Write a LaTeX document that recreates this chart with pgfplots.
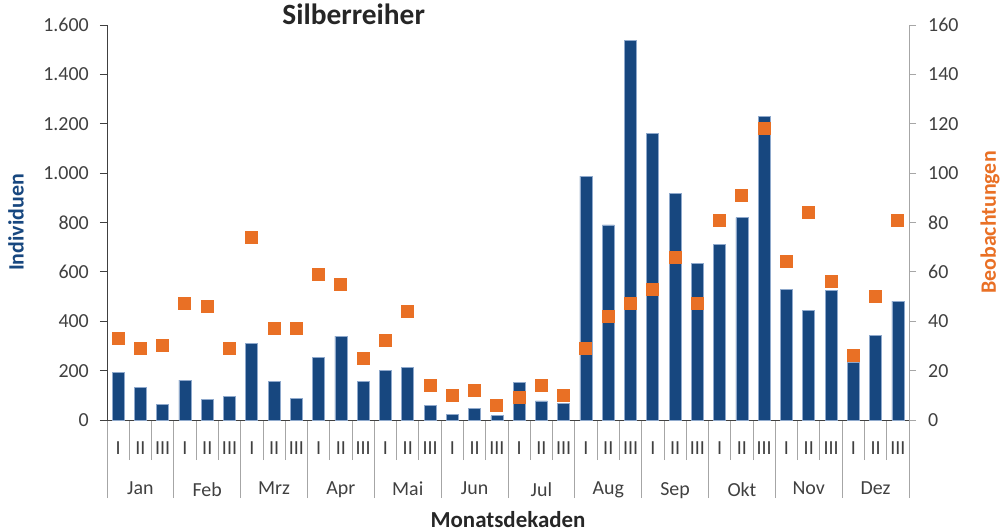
\documentclass[border=0pt]{standalone}
\usepackage{fontspec}
\setmainfont{Carlito}
\usepackage{pgfplots}
\usepackage{pgfplotstable}
\pgfplotsset{compat=1.18}
\definecolor{barblue}{HTML}{17477F}
\definecolor{baredge}{HTML}{8FA9CC}
\definecolor{obsorange}{HTML}{E97025}
\definecolor{ticktext}{HTML}{404040}
\definecolor{sepgray}{HTML}{A6A6A6}
\definecolor{axisdark}{HTML}{404040}
\definecolor{titletext}{HTML}{262626}

\pgfplotstableread{
x ind obs
0.5 192 33
1.5 132 29
2.5 63 30
3.5 162 47
4.5 83 46
5.5 95 29
6.5 309 74
7.5 155 37
8.5 88 37
9.5 253 59
10.5 340 55
11.5 155 25
12.5 200 32
13.5 214 44
14.5 60 14
15.5 24 10
16.5 46 12
17.5 17 6
18.5 152 9
19.5 77 14
20.5 66 10
21.5 988 29
22.5 790 42
23.5 1537 47
24.5 1160 53
25.5 918 66
26.5 635 47
27.5 710 81
28.5 820 91
29.5 1228 118
30.5 530 64
31.5 443 84
32.5 525 56
33.5 235 26
34.5 342 50
35.5 482 81
}\datatable

\pgfplotsset{
  base/.style={scale only axis, width=802bp, height=395bp, xmin=0, xmax=36,
    at={(0,0)}, anchor=south west, axis line style={-},
    tick label style={font=\fontsize{20}{24}\selectfont, text=ticktext},
    /pgf/number format/assume math mode=true},
}

\begin{document}
\begin{tikzpicture}
\path[use as bounding box] (-107bp,-112bp) rectangle (900bp,420bp);

% decade separators and labels
\begin{axis}[base, ymin=0, ymax=1, axis y line=none, axis x line*=bottom,
  x axis line style={axisdark, line width=0.8bp},
  xtick={0,1,...,36}, x tick label as interval,
  xticklabels={I,II,III,I,II,III,I,II,III,I,II,III,I,II,III,I,II,III,I,II,III,I,II,III,I,II,III,I,II,III,I,II,III,I,II,III},
  major tick length=40bp, tick align=outside,
  xtick style={sepgray, line width=0.8bp},
  xticklabel style={anchor=north, inner sep=0pt, yshift=18bp}]
\end{axis}

% month separators and labels
\begin{axis}[base, ymin=0, ymax=1, axis y line=none, axis x line*=bottom,
  x axis line style={axisdark, line width=0.8bp},
  xtick={0,3,...,36}, x tick label as interval,
  xticklabels={Jan,Feb,Mrz,Apr,Mai,Jun,Jul,Aug,Sep,Okt,Nov,Dez},
  major tick length=78bp, tick align=outside,
  xtick style={sepgray, line width=0.8bp},
  xticklabel style={anchor=north, inner sep=0pt, yshift=16bp}]
\end{axis}

% bars, left axis
\begin{axis}[base, ymin=0, ymax=1600,
  axis x line*=bottom, axis y line*=left, xtick=\empty,
  x axis line style={axisdark, line width=0.8bp},
  y axis line style={axisdark, line width=0.8bp},
  ytick={0,200,...,1600}, major tick length=7bp, tick align=outside,
  ytick style={axisdark, line width=0.8bp},
  /pgf/number format/1000 sep={.},
  yticklabel style={anchor=east, inner sep=0pt, xshift=-11bp},
  ylabel={Individuen},
  ylabel style={at={(axis description cs:-0.1135,0.5)}, anchor=center, rotate=0,
    font=\bfseries\fontsize{22}{26}\selectfont, text=barblue},
  xlabel={Monatsdekaden},
  xlabel style={at={(axis description cs:0.5,-0.2709)}, anchor=base, inner sep=0pt,
    font=\bfseries\fontsize{23}{27}\selectfont, text=titletext},
  title={Silberreiher},
  title style={at={(axis description cs:0.3076,0.987)}, anchor=base,
    font=\bfseries\fontsize{29.5}{33}\selectfont, text=titletext},
  ybar, bar width=12bp, bar shift=0pt]
\addplot[fill=barblue, draw=baredge, line width=0.7bp] table[x=x, y=ind] {\datatable};
\end{axis}

% observations, right axis
\begin{axis}[base, ymin=0, ymax=160,
  axis x line=none, axis y line*=right,
  y axis line style={sepgray, line width=0.8bp},
  ytick={0,20,...,160}, major tick length=7bp, tick align=outside,
  ytick style={sepgray, line width=0.8bp},
  yticklabel style={anchor=west, inner sep=0pt, xshift=12bp},
  ylabel={Beobachtungen},
  ylabel style={at={(axis description cs:1.101,0.5)}, anchor=center, rotate=0,
    font=\bfseries\fontsize{22}{26}\selectfont, text=obsorange}]
\addplot[obsorange, only marks, mark=square*, mark size=6bp,
  mark options={fill=obsorange, draw=obsorange, line width=0pt}] table[x=x, y=obs] {\datatable};
\end{axis}
\end{tikzpicture}
\end{document}
